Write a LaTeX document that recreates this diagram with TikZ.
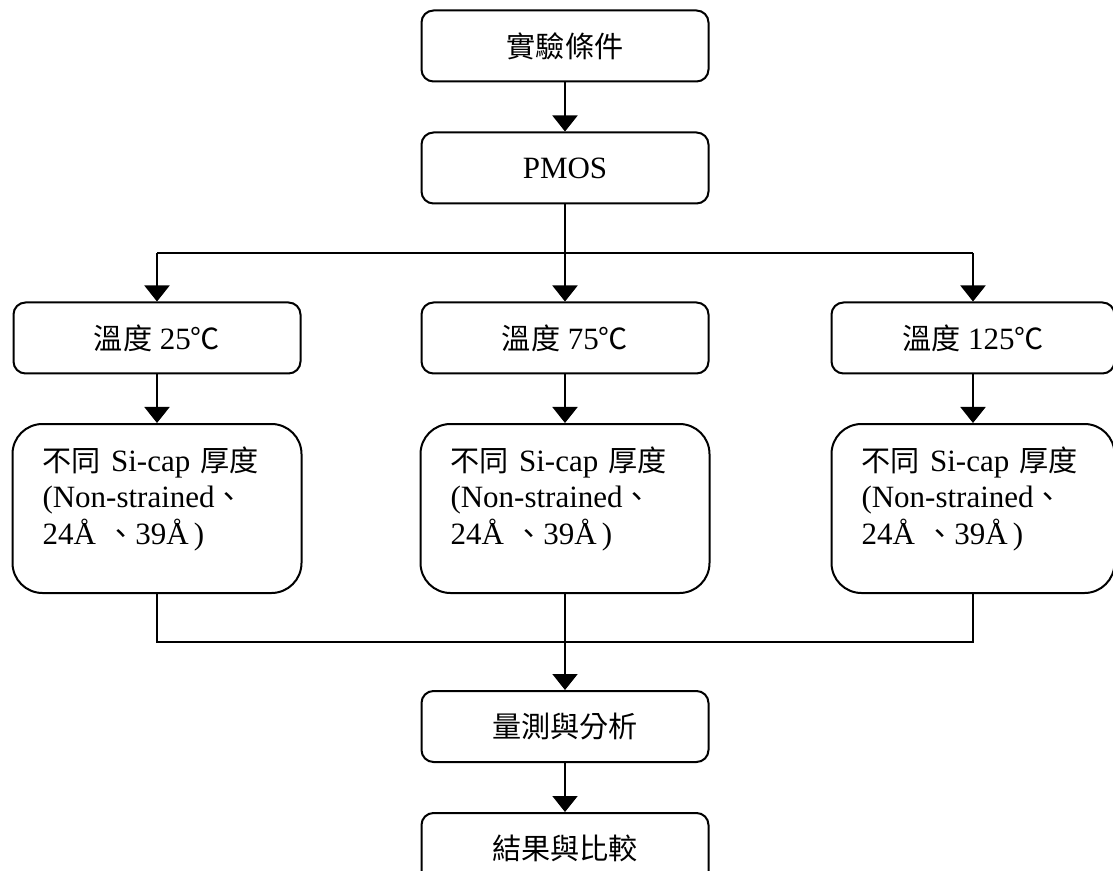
\documentclass[tikz,border=0pt]{standalone}
\usepackage{fontspec}
\setmainfont{Liberation Serif}
\newfontfamily\cjk[Scale=0.94]{Noto Sans CJK TC}
\newcommand{\zh}[1]{{\cjk #1}}
\usepackage{tikz}
\usetikzlibrary{arrows.meta, positioning, calc}
\tikzstyle{arrow} = [line width=1pt, -{Triangle[length=8pt,width=12.5pt]}]

\begin{document}
\begin{tikzpicture}[
	x=0.5pt, y=-0.5pt,
	node distance=24.5pt and 59.5pt,
	every node/.style={font=\fontsize{15.5pt}{18.25pt}\selectfont},
	stage/.style={rectangle, draw=black, line width=1pt, rounded corners=6pt, minimum width=143.5pt, minimum height=35.5pt, align=center},
	cond/.style={rectangle, draw=black, line width=1pt, rounded corners=15pt, minimum height=84.5pt, text width=114.5pt, inner xsep=15pt, align=left}
]
\useasboundingbox (0,0) rectangle (1113,871);

% Main flow
\node[stage] (cond0) at (565,46) {\zh{實驗條件}};
\node[stage, below=of cond0] (pmos) {PMOS};

% Temperature branches
\node[stage, below=48.5pt of pmos] (t75) {\zh{溫度} 75\zh{℃}};
\node[stage, left=of t75] (t25) {\zh{溫度} 25\zh{℃}};
\node[stage, minimum width=141.5pt, right=60.5pt of t75] (t125) {\zh{溫度} 125\zh{℃}};

% Si-cap thickness per temperature
\node[cond, below=24.25pt of t25] (cap25) {\zh{不同} Si-cap \zh{厚度}\\(Non-strained\zh{、}\\24Å \zh{、}39Å\,)\rule[-13pt]{0pt}{13pt}};
\node[cond, below=24.25pt of t75] (cap75) {\zh{不同} Si-cap \zh{厚度}\\(Non-strained\zh{、}\\24Å \zh{、}39Å\,)\rule[-13pt]{0pt}{13pt}};
\node[cond, text width=111.5pt, below=24.25pt of t125] (cap125) {\zh{不同} Si-cap \zh{厚度}\\(Non-strained\zh{、}\\24Å \zh{、}39Å\,)\rule[-13pt]{0pt}{13pt}};

% Measurement and results
\node[stage, below=48pt of cap75] (meas) {\zh{量測與分析}};
\node[stage, below=of meas] (res) {\zh{結果與比較}};

% Arrows
\draw[arrow] (cond0) -- (pmos);
\draw[line width=1pt] (pmos.south) -- ++(0,-24.5pt) coordinate (split);
\draw[line width=1pt] (split -| t25) -- (split -| t125);
\draw[arrow] (split -| t25) -- (t25.north);
\draw[arrow] (split) -- (t75.north);
\draw[arrow] (split -| t125) -- (t125.north);
\draw[arrow] (t25) -- (cap25);
\draw[arrow] (t75) -- (cap75);
\draw[arrow] (t125) -- (cap125);
\draw[line width=1pt] (cap75.south) -- ++(0,-24pt) coordinate (merge);
\draw[line width=1pt] (cap25.south) |- (merge -| cap125) -- (cap125.south);
\draw[arrow] (merge) -- (meas.north);
\draw[arrow] (meas) -- (res);

\end{tikzpicture}
\end{document}
